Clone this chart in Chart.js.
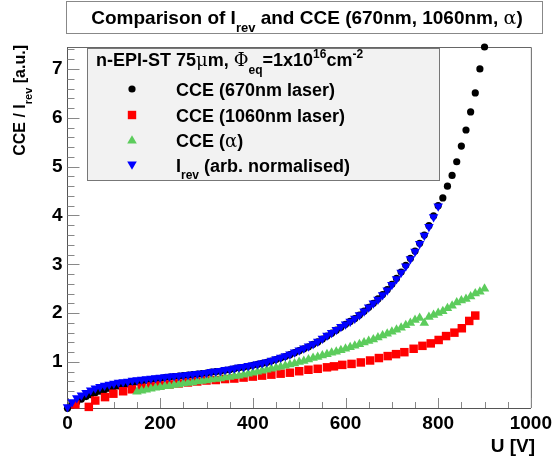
<!DOCTYPE html>
<html>
<head>
<meta charset="utf-8">
<script src="https://cdn.jsdelivr.net/npm/chart.js@4.4.1/dist/chart.umd.min.js"></script>
<style>
  html, body { margin: 0; padding: 0; background: #fff; }
  #wrap { width: 556px; height: 459px; position: relative; }
</style>
</head>
<body>
<div id="wrap"><canvas id="cceChart"></canvas></div>
<script>
// voltages for the 670nm / Irev scans (10 V steps)
const uScan = [0, 10, 20, 30, 40, 50, 60, 70, 80, 90, 100, 110, 120, 130, 140, 150, 160, 170, 180, 190,
  200, 210, 220, 230, 240, 250, 260, 270, 280, 290, 300, 310, 320, 330, 340, 350, 360, 370, 380, 390,
  400, 410, 420, 430, 440, 450, 460, 470, 480, 490, 500, 510, 520, 530, 540, 550, 560, 570, 580, 590,
  600, 610, 620, 630, 640, 650, 660, 670, 680, 690, 700, 710, 720, 730, 740, 750, 760, 770, 780, 790,
  800, 810, 820, 830, 840, 850, 860, 870, 880, 890, 900];

const cce670 = [0.05, 0.12, 0.18, 0.24, 0.29, 0.33, 0.37, 0.40, 0.43, 0.46, 0.49, 0.51, 0.53, 0.55, 0.57, 0.59, 0.61, 0.62, 0.64, 0.65,
  0.66, 0.68, 0.69, 0.70, 0.71, 0.72, 0.73, 0.74, 0.75, 0.76, 0.77, 0.79, 0.80, 0.81, 0.83, 0.84, 0.86, 0.88, 0.89, 0.91,
  0.93, 0.95, 0.97, 0.99, 1.02, 1.05, 1.08, 1.11, 1.15, 1.19, 1.23, 1.27, 1.31, 1.36, 1.41, 1.47, 1.53, 1.59, 1.65, 1.71,
  1.77, 1.83, 1.89, 1.96, 2.04, 2.12, 2.20, 2.29, 2.38, 2.48, 2.59, 2.71, 2.84, 2.98, 3.12, 3.27, 3.43, 3.60, 3.79, 3.99,
  4.20, 4.36, 4.60, 4.82, 5.10, 5.42, 5.75, 6.12, 6.51, 7.00, 7.45];

// Irev only goes up to 800 V
const irevNorm = [0.08, 0.18, 0.26, 0.32, 0.37, 0.42, 0.46, 0.49, 0.52, 0.54, 0.56, 0.58, 0.59, 0.60, 0.62, 0.63, 0.64, 0.65, 0.66, 0.67,
  0.68, 0.69, 0.70, 0.71, 0.72, 0.73, 0.74, 0.75, 0.76, 0.77, 0.78, 0.80, 0.81, 0.82, 0.84, 0.85, 0.87, 0.89, 0.90, 0.92,
  0.94, 0.96, 0.98, 1.00, 1.03, 1.06, 1.09, 1.12, 1.16, 1.20, 1.24, 1.28, 1.32, 1.37, 1.42, 1.48, 1.54, 1.60, 1.66, 1.72,
  1.77, 1.83, 1.89, 1.96, 2.04, 2.12, 2.20, 2.28, 2.37, 2.47, 2.58, 2.70, 2.83, 2.96, 3.11, 3.26, 3.42, 3.59, 3.77, 3.97,
  4.19];

const u1060 = [17, 46, 60, 81, 99, 120, 139, 160, 180, 200, 220, 240, 260, 280, 300, 320, 340, 360, 380, 400,
  420, 440, 460, 480, 500, 520, 540, 560, 575, 593, 613, 633, 653, 672, 691, 709, 727, 747, 766, 784,
  801, 817, 835, 851, 867, 880];
const cce1060 = [0.13, 0.08, 0.21, 0.28, 0.35, 0.40, 0.44, 0.47, 0.50, 0.52, 0.54, 0.56, 0.58, 0.60, 0.62, 0.63, 0.65, 0.66, 0.68, 0.70,
  0.72, 0.74, 0.76, 0.78, 0.81, 0.84, 0.86, 0.89, 0.91, 0.94, 0.96, 0.99, 1.03, 1.08, 1.12, 1.16, 1.20, 1.27, 1.33, 1.38,
  1.45, 1.53, 1.60, 1.69, 1.84, 1.95];

const uAlpha = [150, 160, 170, 180, 190, 200, 210, 220, 230, 240, 250, 260, 270, 280, 290, 300, 310, 320, 330, 340,
  350, 360, 370, 380, 390, 400, 410, 420, 430, 440, 450, 460, 470, 480, 490, 500, 510, 520, 530, 540,
  550, 560, 570, 580, 590, 600, 610, 620, 630, 640, 650, 660, 670, 680, 690, 700, 710, 720, 730, 740,
  750, 760, 770, 780, 790, 800, 810, 820, 830, 840, 850, 860, 870, 880, 890, 900];
const cceAlpha = [0.39, 0.41, 0.43, 0.45, 0.47, 0.48, 0.50, 0.51, 0.53, 0.54, 0.56, 0.57, 0.58, 0.60, 0.61, 0.62, 0.64, 0.65, 0.66, 0.68,
  0.69, 0.71, 0.72, 0.74, 0.76, 0.78, 0.80, 0.82, 0.84, 0.86, 0.88, 0.90, 0.92, 0.95, 0.97, 1.00, 1.02, 1.05, 1.08, 1.10,
  1.13, 1.16, 1.19, 1.21, 1.24, 1.27, 1.30, 1.33, 1.36, 1.40, 1.43, 1.46, 1.50, 1.54, 1.58, 1.62, 1.66, 1.70, 1.75, 1.80,
  1.86, 1.90, 1.80, 1.92, 1.96, 2.00, 2.04, 2.10, 2.15, 2.22, 2.26, 2.29, 2.34, 2.40, 2.44, 2.50];

const xTicks = [0, 200, 400, 600, 800, 1000];
const yTicks = [1, 2, 3, 4, 5, 6, 7];

const FONT = "'Liberation Sans', Arial, Helvetica, sans-serif";
const GREEN = '#5ccc5c';

function pts(xs, ys) {
    return ys.map((y, i) => ({ x: xs[i], y: y }));
}

// draws text made of pieces: [text, kind] kind = '' | 'sub' | 'sup' | 'sym'
function drawRich(ctx, parts, x, y, size, align) {
    const fontFor = (kind) => {
        if (kind === 'sub' || kind === 'sup') return `bold ${Math.round(size * 0.68)}px ${FONT}`;
        if (kind === 'sym') return `${size}px 'DejaVu Serif', serif`;
        return `bold ${size}px ${FONT}`;
    };
    let total = 0;
    parts.forEach(([t, k]) => { ctx.font = fontFor(k); total += ctx.measureText(t).width; });
    let cx = align === 'right' ? x - total : align === 'center' ? x - total / 2 : x;
    ctx.textAlign = 'left';
    ctx.textBaseline = 'alphabetic';
    parts.forEach(([t, k]) => {
        ctx.font = fontFor(k);
        let dy = 0;
        if (k === 'sub') dy = size * 0.42;
        if (k === 'sup') dy = -size * 0.42;
        ctx.fillText(t, cx, y + dy);
        cx += ctx.measureText(t).width;
    });
}

function drawMarker(ctx, kind, x, y, color) {
    ctx.fillStyle = color;
    ctx.beginPath();
    if (kind === 'circle') {
        ctx.arc(x, y, 3.6, 0, Math.PI * 2);
    } else if (kind === 'rect') {
        ctx.rect(x - 4.2, y - 4.2, 8.4, 8.4);
    } else if (kind === 'up') {
        ctx.moveTo(x, y - 4.8); ctx.lineTo(x + 4.8, y + 3.6); ctx.lineTo(x - 4.8, y + 3.6);
    } else {
        ctx.moveTo(x, y + 4.8); ctx.lineTo(x + 4.8, y - 3.6); ctx.lineTo(x - 4.8, y - 3.6);
    }
    ctx.closePath();
    ctx.fill();
}

const rootDecor = {
    id: 'rootDecor',
    beforeDatasetsDraw(chart) {
        const { ctx, chartArea: a, scales } = chart;
        const xs = scales.x, ys = scales.y;
        ctx.save();
        // frame top / right
        ctx.strokeStyle = '#666';
        ctx.lineWidth = 1;
        ctx.beginPath();
        ctx.moveTo(a.left, a.top + 0.5); ctx.lineTo(a.right + 0.5, a.top + 0.5); ctx.lineTo(a.right + 0.5, a.bottom);
        ctx.stroke();
        // inward ticks
        ctx.strokeStyle = '#888';
        ctx.beginPath();
        for (let v = 0; v <= 1000; v += 50) {
            const px = Math.round(xs.getPixelForValue(v)) + 0.5;
            const len = v % 200 === 0 ? 10 : 6;
            ctx.moveTo(px, a.bottom); ctx.lineTo(px, a.bottom - len);
        }
        for (let i = 1; i <= 37; i++) {
            const v = i * 0.2;
            const py = Math.round(ys.getPixelForValue(v)) + 0.5;
            const len = i % 5 === 0 ? 12 : 7;
            ctx.moveTo(a.left, py); ctx.lineTo(a.left + len, py);
        }
        ctx.stroke();
        ctx.restore();
    },
    afterDraw(chart) {
        const { ctx } = chart;
        ctx.save();
        // title box
        ctx.fillStyle = '#fff';
        ctx.fillRect(66.5, 1.5, 476, 32);
        ctx.strokeStyle = '#888';
        ctx.lineWidth = 1;
        ctx.strokeRect(66.5, 1.5, 476, 32);
        ctx.fillStyle = '#000';
        drawRich(ctx, [['Comparison of I', ''], ['rev', 'sub'], [' and CCE (670nm, 1060nm, ', ''], ['α', 'sym'], [')', '']],
            307, 24, 19, 'center');

        // legend box
        ctx.fillStyle = '#f2f2f2';
        ctx.fillRect(87.5, 48.5, 352, 132);
        ctx.strokeStyle = '#777';
        ctx.strokeRect(87.5, 48.5, 352, 132);
        ctx.fillStyle = '#000';
        drawRich(ctx, [['n-EPI-ST 75', ''], ['μ', 'sym'], ['m, ', ''], ['Φ', 'sym'], ['eq', 'sub'], ['=1x10', ''], ['16', 'sup'], ['cm', ''], ['-2', 'sup']],
            96, 66, 18, 'left');
        const entries = [
            ['circle', '#000', [['CCE (670nm laser)', '']], 89],
            ['rect', '#ff0000', [['CCE (1060nm laser)', '']], 115],
            ['up', GREEN, [['CCE (', ''], ['α', 'sym'], [')', '']], 140],
            ['down', '#0000ff', [['I', ''], ['rev', 'sub'], [' (arb. normalised)', '']], 165]
        ];
        entries.forEach(([m, c, txt, y]) => {
            drawMarker(ctx, m, 132, y, c);
            ctx.fillStyle = '#000';
            drawRich(ctx, txt, 176, y + 6.5, 18, 'left');
        });

        // axis titles
        drawRich(ctx, [['U [V]', '']], 535, 452, 19, 'right');
        ctx.translate(25, 45);
        ctx.rotate(-Math.PI / 2);
        drawRich(ctx, [['CCE / I', ''], ['rev', 'sub'], [' [a.u.]', '']], 0, 0, 16, 'right');
        ctx.restore();
    }
};

const ctx = document.getElementById('cceChart').getContext('2d');
new Chart(ctx, {
    type: 'scatter',
    data: {
        datasets: [
            { label: 'Irev (arb. normalised)', data: pts(uScan, irevNorm), pointStyle: 'triangle', rotation: 180, pointRadius: 5.5, backgroundColor: '#0000ff', borderWidth: 0, clip: false },
            { label: 'CCE (alpha)', data: pts(uAlpha, cceAlpha), pointStyle: 'triangle', pointRadius: 5.5, backgroundColor: GREEN, borderWidth: 0, clip: false },
            { label: 'CCE (1060nm laser)', data: pts(u1060, cce1060), pointStyle: 'rect', pointRadius: 6, backgroundColor: '#ff0000', borderWidth: 0, clip: false },
            { label: 'CCE (670nm laser)', data: pts(uScan, cce670), pointStyle: 'circle', pointRadius: 3.6, backgroundColor: '#000', borderWidth: 0, clip: false }
        ]
    },
    options: {
        responsive: true,
        maintainAspectRatio: false,
        animation: false,
        layout: { padding: { left: 0, top: 47, right: 22, bottom: 0 } },
        plugins: { legend: { display: false }, tooltip: { enabled: false } },
        scales: {
            x: {
                type: 'linear', min: 0, max: 1000,
                grid: { display: false, drawTicks: false },
                border: { display: true, color: '#555', width: 1 },
                afterBuildTicks: (s) => { s.ticks = xTicks.map(v => ({ value: v })); },
                afterFit: (s) => { s.height = 51; },
                ticks: { padding: 4, color: '#000', maxRotation: 0, callback: (v) => String(v), font: { family: FONT, size: 19, weight: 'bold' } }
            },
            y: {
                type: 'linear', min: 0.057, max: 7.45,
                grid: { display: false, drawTicks: false },
                border: { display: true, color: '#555', width: 1 },
                afterBuildTicks: (s) => { s.ticks = yTicks.map(v => ({ value: v })); },
                afterFit: (s) => { s.width = 67.5; },
                ticks: { padding: 5, color: '#000', callback: (v) => String(v), font: { family: FONT, size: 19, weight: 'bold' } }
            }
        }
    },
    plugins: [rootDecor]
});
</script>
</body>
</html>
